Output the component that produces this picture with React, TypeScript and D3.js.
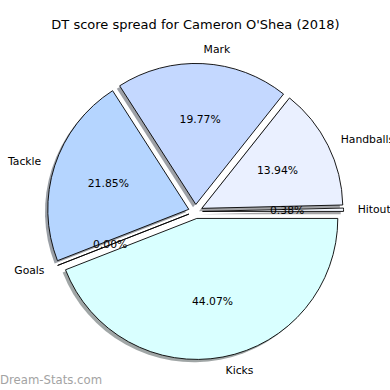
import React from "react";
import * as d3 from "d3";

const title = "DT score spread for Cameron O'Shea (2018)";
// counter-clockwise order starting at 3 o'clock (matplotlib convention)
const labels = ["Hitout", "Handballs", "Mark", "Tackle", "Goals", "Kicks"];
const values = [0.38, 13.94, 19.77, 21.85, 0.0, 44.07];
const colors = ["#f4f8ff", "#eaf0ff", "#c4d8ff", "#b5d5ff", "#c8e0ff", "#d9ffff"];
const watermark = "Dream-Stats.com";

const W = 390;
const H = 390;
const cx = 195.5;
const cy = 211.5;
const R = 141;
const explode = 0.05;
const FONT = "'DejaVu Sans', sans-serif";

export default function App() {
  const total = d3.sum(values);
  const pie = d3
    .pie<number>()
    .sort(null)
    .startAngle(Math.PI / 2)
    .endAngle(Math.PI / 2 - 2 * Math.PI)
    .value((d) => d);
  const arcs = pie(values);
  const arcGen = d3.arc<any>().innerRadius(0).outerRadius(R);

  const items = arcs.map((a, i) => {
    const m = (a.startAngle + a.endAngle) / 2;
    const ox = Math.sin(m) * explode * R;
    const oy = -Math.cos(m) * explode * R;
    const lr = 1.1 * R;
    const pr = 0.6 * R;
    const lx = ox + Math.sin(m) * lr;
    const ly = oy - Math.cos(m) * lr;
    const px = ox + Math.sin(m) * pr;
    const py = oy - Math.cos(m) * pr;
    const c = d3.rgb(colors[i]);
    const shadow = d3.rgb(c.r * 0.3, c.g * 0.3, c.b * 0.3).formatHex();
    return {
      path: arcGen(a) as string,
      ox,
      oy,
      lx,
      ly,
      px,
      py,
      shadow,
      color: colors[i],
      label: labels[i],
      pct: ((values[i] / total) * 100).toFixed(2) + "%",
    };
  });

  return (
    <svg
      width={W}
      height={H}
      style={{ position: "absolute", left: 0, top: 0, background: "#fff" }}
      fontFamily={FONT}
    >
      <rect width={W} height={H} fill="#fff" />
      <text x={cx} y={29} textAnchor="middle" fontSize={13} fill="#000">
        {title}
      </text>
      <g transform={`translate(${cx},${cy})`}>
        {items.map((d, i) => (
          <path
            key={"s" + i}
            d={d.path}
            transform={`translate(${d.ox - 0.02 * R},${d.oy + 0.02 * R})`}
            fill={d.shadow}
            fillOpacity={0.5}
            stroke="none"
          />
        ))}
        {items.map((d, i) => (
          <path
            key={"w" + i}
            d={d.path}
            transform={`translate(${d.ox},${d.oy})`}
            fill={d.color}
            stroke="#000"
            strokeWidth={0.9}
            strokeLinejoin="round"
          />
        ))}
        {items.map((d, i) => (
          <text
            key={"l" + i}
            x={d.lx}
            y={d.ly}
            textAnchor={d.lx > 0 ? "start" : "end"}
            dominantBaseline="central"
            fontSize={10.8}
            fill="#000"
          >
            {d.label}
          </text>
        ))}
        {items.map((d, i) => (
          <text
            key={"p" + i}
            x={d.px}
            y={d.py}
            textAnchor="middle"
            dominantBaseline="central"
            fontSize={10.8}
            fill="#000"
          >
            {d.pct}
          </text>
        ))}
      </g>
      <text x={0} y={384} fontSize={11.7} fill="#a3a3a3">
        {watermark}
      </text>
    </svg>
  );
}
